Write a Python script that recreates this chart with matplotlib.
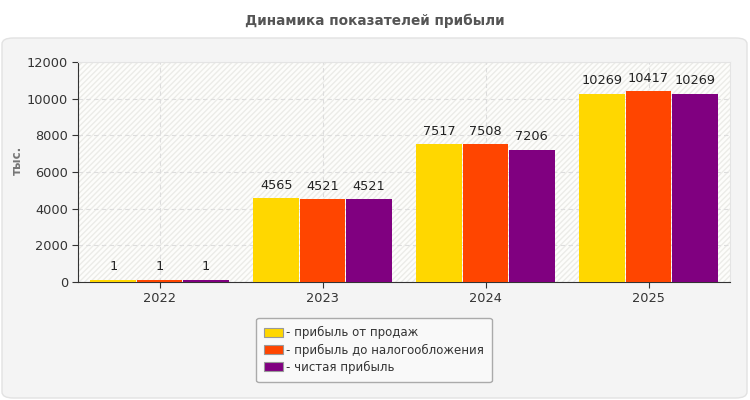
import numpy as np
import matplotlib
matplotlib.use('Agg')
import matplotlib.pyplot as plt
from matplotlib.patches import FancyBboxPatch, Rectangle, Patch

# data
years = ['2022', '2023', '2024', '2025']
sales_profit = [1, 4565, 7517, 10269]
pretax_profit = [1, 4521, 7508, 10417]
net_profit = [1, 4521, 7206, 10269]
series_names = ['- прибыль от продаж', '- прибыль до налогообложения', '- чистая прибыль']
colors = ['#FFD700', '#FF4500', '#800080']

plt.rcParams['font.family'] = ['DejaVu Sans']

fig = plt.figure(figsize=(7.5, 4), dpi=100)
fig.patch.set_facecolor('white')

# grey panel behind the chart
panel = FancyBboxPatch((2 / 750, 2 / 400), 745 / 750, 360 / 400,
                       boxstyle='round,pad=0,rounding_size=0.015',
                       transform=fig.transFigure, facecolor='#f4f4f4',
                       edgecolor='#e2e2e2', linewidth=1, zorder=-5)
fig.patches.append(panel)

fig.text(0.5, 0.948, 'Динамика показателей прибыли', ha='center', va='center',
         fontsize=9.8, fontweight='bold', color='#555555')

ax = fig.add_axes([78 / 750, 1 - 282 / 400, 652 / 750, 220 / 400])
ax.set_facecolor('#fdfdfb')
ax.add_patch(Rectangle((0, 0), 1, 1, transform=ax.transAxes, facecolor='none',
                       hatch='//////', edgecolor='#ecece8', linewidth=0, zorder=0))

x = np.arange(len(years))
w = 0.28
min_h = 130  # keep tiny bars visible, like the source renderer
series = [sales_profit, pretax_profit, net_profit]
for i, vals in enumerate(series):
    pos = x + (i - 1) * (w + 0.004)
    shown = np.maximum(vals, min_h)
    ax.bar(pos, shown, width=w, color=colors[i], zorder=3)
    for px, v, h in zip(pos, vals, shown):
        ax.text(px, h + 350, str(v), ha='center', va='bottom', fontsize=9.3,
                color='#222222', zorder=4)

ax.set_xlim(-0.5, len(years) - 0.5)
ax.set_ylim(0, 12000)
ax.set_yticks(np.arange(0, 12001, 2000))
ax.set_xticks(x)
ax.set_xticklabels(years)
ax.tick_params(axis='both', labelsize=9.3, colors='#333333', length=4)
ax.tick_params(axis='y', pad=3)
ax.grid(True, linestyle=(0, (4, 3)), color='#dddddd', linewidth=0.8, zorder=1)
ax.set_axisbelow(True)
for s in ['left', 'bottom']:
    ax.spines[s].set_color('#333333')
for s in ['top', 'right']:
    ax.spines[s].set_color('#e4e4e4')

ax.set_ylabel('тыс.', fontsize=8.5, fontweight='bold', color='#777777')
ax.yaxis.set_label_coords(-54 / 652, 0.555)

handles = [Patch(facecolor=c, edgecolor='#999999', linewidth=0.8) for c in colors]
leg = fig.legend(handles, series_names, loc='center', bbox_to_anchor=(374 / 750, 1 - 350 / 400),
                 fontsize=8.5, frameon=True, fancybox=True, handlelength=1.6,
                 handleheight=0.8, handletextpad=0.2, labelspacing=0.35,
                 borderpad=0.7, labelcolor='#333333')
leg.get_frame().set_facecolor('#f9f9f9')
leg.get_frame().set_edgecolor('#aaaaaa')
leg.get_frame().set_alpha(1)

fig.savefig('out.png', dpi=100)
